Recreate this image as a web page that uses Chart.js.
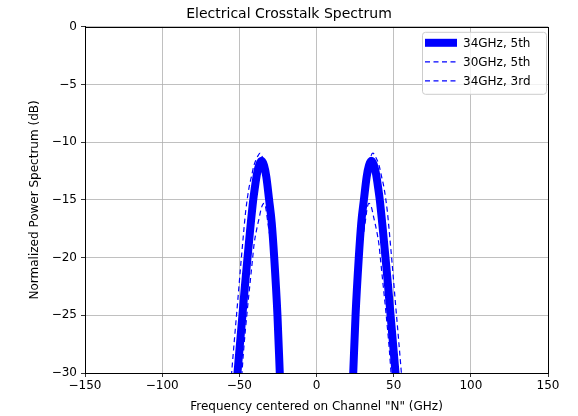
<!DOCTYPE html>
<html><head><meta charset="utf-8">
<script src="https://cdn.jsdelivr.net/npm/chart.js@4/dist/chart.umd.min.js"></script>
<style>html,body{margin:0;padding:0;background:#fff}#wrap{width:578px;height:416px}</style>
</head><body><div id="wrap"><canvas id="c" width="578" height="416"></canvas></div>
<script>
const xTicks = [-150, -100, -50, 0, 50, 100, 150];
const yTicks = [0, -5, -10, -15, -20, -25, -30];
const seriesLabels = ["34GHz, 5th", "30GHz, 5th", "34GHz, 3rd"];

// 34GHz, 5th (thick solid)
const freqA = [-51.8, -51.2, -49.6, -48, -46.4, -44.7, -43, -41, -40, -38.5, -37, -35.5, -34, -32.5, -30.7, -29, -27.4, -25.3, -23.8, -23.5, 0,
               23.5, 23.8, 25.3, 27.4, 29, 30.7, 32.5, 34, 35.5, 37, 38.5, 40, 41, 43, 44.7, 46.4, 48, 49.6, 51.2, 51.8];
const dbA = [-31, -30, -27.5, -25, -22.5, -20, -17.6, -15, -14, -12.7, -11.9, -11.6, -12, -13, -15, -17, -20, -25, -30, -31, null,
             -31, -30, -25, -20, -17, -15, -13, -12, -11.6, -11.9, -12.7, -14, -15, -17.6, -20, -22.5, -25, -27.5, -30, -31];

// 30GHz, 5th (dashed, lower peak)
const freqB = [-48.8, -47.2, -44.8, -42.5, -41.5, -40.5, -39, -37.2, -35.5, -34, -33, -31.5, -28.5, -26, -24.3, 0,
               24.3, 26, 28.5, 31.5, 33, 34, 35.5, 37.2, 39, 40.5, 41.5, 42.5, 44.8, 47.2, 48.8];
const dbB = [-31, -28, -24.5, -21.5, -20.2, -18.9, -17.7, -16.6, -15.6, -15.3, -15.6, -17, -20, -25, -31, null,
             -31, -25, -20, -17, -15.6, -15.3, -15.6, -16.6, -17.7, -18.9, -20.2, -21.5, -24.5, -28, -31];

// 34GHz, 3rd (dashed, higher peak)
const freqC = [-55.6, -55, -53, -51, -49, -48, -47, -45.9, -43.8, -42.2, -40.5, -38, -36.5, -35.3, -34, -32.5, -31, -29.5, -28, -26, -24.8, -24.2, 0,
               24.2, 24.8, 26, 28, 29.5, 31, 32.5, 34, 35.3, 36.5, 38, 40.5, 42.2, 43.8, 45.9, 47, 48, 49, 51, 53, 55, 55.6];
const dbC = [-31, -30, -26.8, -23.7, -20.5, -19, -17.5, -16, -14, -13, -12, -11.2, -10.95, -11.2, -12, -13.2, -15, -17, -20, -25, -29, -31, null,
             -31, -29, -25, -20, -17, -15, -13.2, -12, -11.2, -10.95, -11.2, -12, -13, -14, -16, -17.5, -19, -20.5, -23.7, -26.8, -30, -31];

const pts = (xs, ys) => xs.map((x, i) => ({x: x, y: ys[i]}));
const FONT = "'DejaVu Sans', sans-serif";
const minus = v => String(v).replace('-', '\u2212');

const framePlugin = {
  id: 'frame',
  afterDatasetsDraw(chart) {
    const {ctx, chartArea: a} = chart;
    ctx.save();
    ctx.strokeStyle = '#000'; ctx.lineWidth = 1;
    ctx.strokeRect(Math.round(a.left) + 0.5, Math.round(a.top) + 0.5, Math.round(a.right - a.left), Math.round(a.bottom - a.top));
    ctx.restore();
  },
  afterDraw(chart) {
    const {ctx, chartArea: a} = chart;
    const ds = chart.data.datasets;
    const bx = a.right - 126, by = a.top + 5, bw = 124, bh = 62;
    ctx.save();
    ctx.fillStyle = 'rgba(255,255,255,0.8)';
    ctx.strokeStyle = '#cccccc'; ctx.lineWidth = 1;
    ctx.beginPath();
    if (ctx.roundRect) ctx.roundRect(bx + 0.5, by + 0.5, bw, bh, 3); else ctx.rect(bx + 0.5, by + 0.5, bw, bh);
    ctx.fill(); ctx.stroke();
    ctx.font = "12px " + FONT;
    ctx.textBaseline = 'middle';
    ds.forEach((d, i) => {
      const y = by + 11 + i * 19;
      ctx.beginPath();
      ctx.strokeStyle = d.borderColor;
      ctx.lineWidth = d.borderWidth;
      ctx.setLineDash(d.borderDash || []);
      ctx.moveTo(bx + 3, y); ctx.lineTo(bx + 35, y);
      ctx.stroke();
      ctx.setLineDash([]);
      ctx.fillStyle = '#000';
      ctx.fillText(d.label, bx + 41, y + 1);
    });
    ctx.restore();
  }
};

new Chart(document.getElementById('c'), {
  type: 'scatter',
  data: {
    datasets: [
      {label: seriesLabels[0], data: pts(freqA, dbA), showLine: true, borderColor: '#0000ff', borderWidth: 8,
       pointRadius: 0, cubicInterpolationMode: 'monotone', spanGaps: false},
      {label: seriesLabels[1], data: pts(freqB, dbB), showLine: true, borderColor: '#0000ff', borderWidth: 1.2,
       borderDash: [5, 3.5], pointRadius: 0, cubicInterpolationMode: 'monotone', spanGaps: false},
      {label: seriesLabels[2], data: pts(freqC, dbC), showLine: true, borderColor: '#0000ff', borderWidth: 1.2,
       borderDash: [5, 3.5], pointRadius: 0, cubicInterpolationMode: 'monotone', spanGaps: false}
    ]
  },
  options: {
    responsive: false, animation: false, devicePixelRatio: 1,
    layout: {padding: 0},
    plugins: {
      legend: {display: false}, tooltip: {enabled: false},
      title: {display: true, text: 'Electrical Crosstalk Spectrum', color: '#000',
              font: {family: FONT, size: 14, weight: 'normal', lineHeight: 1.2}, padding: {top: 6, bottom: 4}}
    },
    scales: {
      x: {type: 'linear', min: -150, max: 150,
          afterBuildTicks: s => { s.ticks = xTicks.map(v => ({value: v})); },
          afterFit: s => { s.height = 43; },
          ticks: {color: '#000', font: {family: FONT, size: 12}, padding: 2, maxRotation: 0, callback: v => minus(v)},
          grid: {color: '#b0b0b0', lineWidth: 0.8, tickColor: '#000', tickLength: 4},
          border: {color: '#000', width: 1},
          title: {display: true, text: 'Frequency centered on Channel "N" (GHz)', color: '#000',
                  font: {family: FONT, size: 12}, padding: {top: 2, bottom: 2}}},
      y: {type: 'linear', min: -30, max: 0,
          afterBuildTicks: s => { s.ticks = yTicks.map(v => ({value: v})); },
          afterFit: s => { s.width = 85; },
          ticks: {color: '#000', font: {family: FONT, size: 12}, padding: 4, callback: v => minus(v)},
          grid: {color: '#b0b0b0', lineWidth: 0.8, tickColor: '#000', tickLength: 4},
          border: {color: '#000', width: 1},
          title: {display: true, text: 'Normalized Power Spectrum (dB)', color: '#000',
                  font: {family: FONT, size: 12}, padding: {top: 28, bottom: 0}}},
      y2: {type: 'linear', position: 'right', display: true,
           afterFit: s => { s.width = 30; },
           ticks: {display: false}, grid: {display: false, drawTicks: false}, border: {display: false}}
    }
  },
  plugins: [framePlugin]
});
</script></body></html>
